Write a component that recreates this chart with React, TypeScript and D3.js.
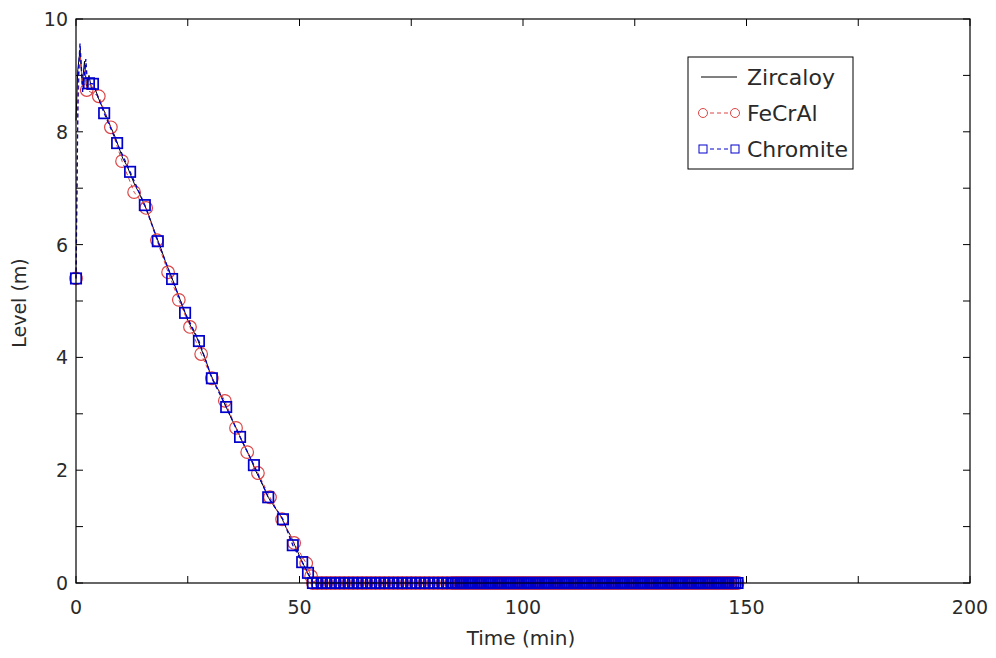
import React from "react";
import * as d3 from "d3";

// ---- Data ----
const xTickValues = [0, 25, 50, 75, 100, 125, 150, 175, 200];
const xTickLabels = ["0", "50", "100", "150", "200"];
const yTickValues = [0, 1, 2, 3, 4, 5, 6, 7, 8, 9, 10];
const yTickLabels = ["0", "2", "4", "6", "8", "10"];

const zircTime = [0, 0.4, 0.9, 1.4, 1.9, 2.4, 2.9, 3.5, 4.2, 5.0, 6.0, 6.8, 7.8, 8.7, 9.6, 10.5, 11.4, 12.3, 13.2, 14.1, 15.0, 16.0, 17.0, 18.0, 19.0, 20.0, 21.0, 22.0, 23.0, 24.0, 25.0, 26.0, 27.0, 28.0, 29.0, 30.0, 31.0, 32.0, 33.0, 34.0, 35.0, 36.0, 37.0, 38.0, 39.0, 40.0, 41.0, 42.0, 43.0, 44.0, 45.0, 46.0, 47.0, 48.0, 49.0, 50.0, 51.0, 52.0, 53.0, 54.0, 148.0];
const zircLevel = [8.2, 9.1, 9.45, 8.85, 9.25, 8.75, 9.0, 8.75, 8.78, 8.6, 8.42, 8.28, 8.08, 7.92, 7.72, 7.52, 7.4, 7.22, 7.05, 6.92, 6.76, 6.58, 6.36, 6.14, 5.93, 5.7, 5.5, 5.3, 5.08, 4.88, 4.66, 4.5, 4.36, 4.15, 3.96, 3.72, 3.55, 3.4, 3.22, 3.05, 2.88, 2.72, 2.54, 2.38, 2.22, 2.02, 1.86, 1.7, 1.52, 1.4, 1.28, 1.16, 0.98, 0.84, 0.66, 0.48, 0.31, 0.14, 0.02, 0, 0];

// FeCrAl markers (descending part)
const feTime = [0, 2.4, 5.1, 7.8, 10.3, 13.0, 15.7, 18.1, 20.6, 23.0, 25.5, 28.0, 30.4, 33.3, 35.8, 38.3, 40.7, 43.4, 46.1, 48.8, 51.5, 52.6];
const feLevel = [5.4, 8.74, 8.63, 8.08, 7.48, 6.93, 6.65, 6.08, 5.51, 5.02, 4.54, 4.06, 3.63, 3.23, 2.75, 2.32, 1.95, 1.52, 1.13, 0.71, 0.35, 0.12];
// FeCrAl start-up transient (line only)
const feEarlyTime = [0.4, 0.9, 1.5, 2.0];
const feEarlyLevel = [8.4, 9.35, 8.8, 9.1];

// Chromite markers (descending part)
const crTime = [0, 2.9, 3.8, 6.3, 9.2, 12.1, 15.4, 18.3, 21.5, 24.4, 27.5, 30.4, 33.6, 36.7, 39.8, 43.0, 46.3, 48.5, 50.6, 51.9];
const crLevel = [5.4, 8.86, 8.85, 8.33, 7.8, 7.29, 6.7, 6.06, 5.39, 4.79, 4.29, 3.63, 3.12, 2.59, 2.09, 1.52, 1.13, 0.67, 0.37, 0.18];
// Chromite start-up transient (line only)
const crEarlyTime = [0.5, 0.9, 1.5, 2.2, 2.6];
const crEarlyLevel = [9.0, 9.57, 8.7, 9.29, 8.8];

// Empty-core tail (level 0) shared by FeCrAl and Chromite
const tailTime = [53, 54, 55, 56, 57, 58, 59, 60, 61, 62, 63, 64, 65, 66, 67, 68, 69, 70, 71, 72, 73, 74, 75, 76, 77, 78, 79, 80, 81, 82, 83, 84,
  84.5, 85, 85.5, 86, 86.5, 87, 87.5, 88, 88.5, 89, 89.5, 90, 90.5, 91, 91.5, 92, 92.5, 93, 93.5, 94, 94.5, 95, 95.5, 96, 96.5, 97, 97.5, 98, 98.5, 99, 99.5,
  100, 100.5, 101, 101.5, 102, 102.5, 103, 103.5, 104, 104.5, 105, 105.5, 106, 106.5, 107, 107.5, 108, 108.5, 109, 109.5, 110, 110.5, 111, 111.5, 112, 112.5,
  113, 113.5, 114, 114.5, 115, 115.5, 116, 116.5, 117, 117.5, 118, 118.5, 119, 119.5, 120, 120.5, 121, 121.5, 122, 122.5, 123, 123.5, 124, 124.5, 125, 125.5,
  126, 126.5, 127, 127.5, 128, 128.5, 129, 129.5, 130, 130.5, 131, 131.5, 132, 132.5, 133, 133.5, 134, 134.5, 135, 135.5, 136, 136.5, 137, 137.5, 138, 138.5,
  139, 139.5, 140, 140.5, 141, 141.5, 142, 142.5, 143, 143.5, 144, 144.5, 145, 145.5, 146, 146.5, 147, 147.5, 148];
const tailLevel = 0;

const seriesNames = ["Zircaloy", "FeCrAl", "Chromite"];

// ---- Layout / style ----
const W = 996, H = 658;
const L = 76, R = 970, T = 19, B = 583;
const FONT = "'DejaVu Sans', Verdana, sans-serif";
const TXT = "#2a2a2a";
const RED = "#dd4545";
const BLUE = "#0000cc";

type P = [number, number];

export default function App() {
  const x = d3.scaleLinear().domain([0, 200]).range([L, R]);
  const y = d3.scaleLinear().domain([0, 10]).range([B, T]);
  const line = d3.line<P>().x((d) => x(d[0])).y((d) => y(d[1]));

  const zirc: P[] = zircTime.map((t, i) => [t, zircLevel[i]]);
  const tail: P[] = tailTime.map((t) => [t, tailLevel]);
  const feMarks: P[] = feTime.map((t, i) => [t, feLevel[i]] as P).concat(tail);
  const crMarks: P[] = crTime.map((t, i) => [t, crLevel[i]] as P).concat(tail);
  const feLine: P[] = feMarks.concat(feEarlyTime.map((t, i) => [t, feEarlyLevel[i]] as P)).sort((a, b) => a[0] - b[0]);
  const crLine: P[] = crMarks.concat(crEarlyTime.map((t, i) => [t, crEarlyLevel[i]] as P)).sort((a, b) => a[0] - b[0]);

  const tickLen = 7;
  const lg = { x: 688, y: 57, w: 165, h: 112 };
  const rows = [77, 113, 149];

  return (
    <svg width={W} height={H} style={{ position: "absolute", left: 0, top: 0, background: "#fff" }} fontFamily={FONT}>
      <rect x={0} y={0} width={W} height={H} fill="#fff" />
      {/* ticks */}
      {xTickValues.map((v) => (
        <g key={"xt" + v} stroke="#000" strokeWidth={1}>
          <line x1={x(v)} x2={x(v)} y1={B} y2={B - tickLen} />
          <line x1={x(v)} x2={x(v)} y1={T} y2={T + tickLen} />
        </g>
      ))}
      {yTickValues.map((v) => (
        <g key={"yt" + v} stroke="#000" strokeWidth={1}>
          <line x1={L} x2={L + tickLen} y1={y(v)} y2={y(v)} />
          <line x1={R} x2={R - tickLen} y1={y(v)} y2={y(v)} />
        </g>
      ))}
      {/* tick labels */}
      {xTickLabels.map((s) => (
        <text key={"xl" + s} x={x(+s)} y={614} textAnchor="middle" fontSize={19} fill={TXT}>{s}</text>
      ))}
      {yTickLabels.map((s) => (
        <text key={"yl" + s} x={68} y={y(+s) + 7} textAnchor="end" fontSize={19} fill={TXT}>{s}</text>
      ))}
      <text x={521} y={645} textAnchor="middle" fontSize={20} fill={TXT}>Time (min)</text>
      <text transform={`translate(26,${303}) rotate(-90)`} textAnchor="middle" fontSize={19} fill={TXT}>Level (m)</text>

      {/* series */}
      <path d={line(zirc) || ""} fill="none" stroke="#000" strokeWidth={1} />
      <path d={line(feLine) || ""} fill="none" stroke={RED} strokeWidth={1} strokeDasharray="4,3" />
      {feMarks.map((d, i) => (
        <circle key={"fe" + i} cx={x(d[0])} cy={y(d[1])} r={6.3} fill="none" stroke={RED} strokeWidth={1.2} />
      ))}
      <path d={line(crLine) || ""} fill="none" stroke={BLUE} strokeWidth={1.3} strokeDasharray="4,3" />
      {crMarks.map((d, i) => (
        <rect key={"cr" + i} x={x(d[0]) - 5.2} y={y(d[1]) - 5.2} width={10.4} height={10.4} fill="none" stroke={BLUE} strokeWidth={1.7} />
      ))}

      {/* frame */}
      <rect x={L} y={T} width={R - L} height={B - T} fill="none" stroke="#000" strokeWidth={1.2} />

      {/* legend */}
      <rect x={lg.x} y={lg.y} width={lg.w} height={lg.h} fill="#fff" stroke="#000" strokeWidth={1} />
      <line x1={701} x2={737} y1={rows[0]} y2={rows[0]} stroke="#000" strokeWidth={1} />
      <line x1={703} x2={735} y1={rows[1]} y2={rows[1]} stroke={RED} strokeWidth={1} strokeDasharray="4,3" />
      <circle cx={703} cy={rows[1]} r={4.5} fill="#fff" stroke={RED} />
      <circle cx={735} cy={rows[1]} r={4.5} fill="#fff" stroke={RED} />
      <line x1={703} x2={735} y1={rows[2]} y2={rows[2]} stroke={BLUE} strokeWidth={1} strokeDasharray="4,3" />
      <rect x={699} y={rows[2] - 4} width={8} height={8} fill="#fff" stroke={BLUE} />
      <rect x={731} y={rows[2] - 4} width={8} height={8} fill="#fff" stroke={BLUE} />
      {seriesNames.map((s, i) => (
        <text key={s} x={747} y={rows[i] + 8} fontSize={22} fill={TXT}>{s}</text>
      ))}
    </svg>
  );
}
